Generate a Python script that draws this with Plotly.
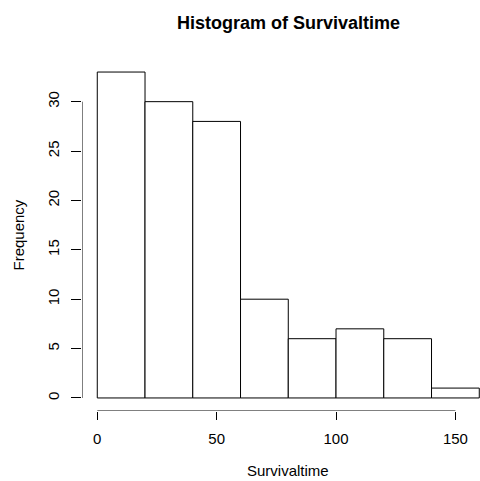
import plotly.graph_objects as go

bin_edges = [0, 20, 40, 60, 80, 100, 120, 140, 160]
counts = [33, 30, 28, 10, 6, 7, 6, 1]
x_ticks = [0, 50, 100, 150]
y_ticks = [0, 5, 10, 15, 20, 25, 30]
title = "Histogram of Survivaltime"
x_label = "Survivaltime"
y_label = "Frequency"

mids = [(a + b) / 2 for a, b in zip(bin_edges[:-1], bin_edges[1:])]
widths = [b - a for a, b in zip(bin_edges[:-1], bin_edges[1:])]

FONT = "Liberation Sans, Arial, sans-serif"
xr = [-6.4, 160.3]
yr = [-1.32, 34.32]

fig = go.Figure()
fig.add_trace(go.Bar(x=mids, y=counts, width=widths,
                     marker=dict(color="white", line=dict(color="black", width=1)),
                     showlegend=False, hoverinfo="skip"))

fig.update_layout(
    width=480, height=481,
    margin=dict(l=81.5, r=0, t=59, b=70.3),
    paper_bgcolor="white", plot_bgcolor="white",
    font=dict(family=FONT, size=15, color="black"),
    xaxis=dict(range=xr, tickvals=x_ticks, ticks="outside", ticklen=8, tickwidth=1,
               tickcolor="black", showgrid=False, zeroline=False, showline=False,
               ticklabelstandoff=6, tickfont=dict(size=15)),
    yaxis=dict(range=yr, tickvals=y_ticks, ticks="outside", ticklen=10, tickwidth=1,
               tickcolor="black", showgrid=False, zeroline=False, showline=False,
               tickangle=-90, ticklabelstandoff=6, tickfont=dict(size=15)),
    shapes=[
        dict(type="line", xref="x", yref="y", x0=x_ticks[0], x1=x_ticks[-1], y0=yr[0], y1=yr[0],
             line=dict(color="black", width=1)),
        dict(type="line", xref="x", yref="y", x0=xr[0], x1=xr[0], y0=y_ticks[0], y1=y_ticks[-1],
             line=dict(color="black", width=1)),
    ],
    annotations=[
        dict(text="<b>" + title + "</b>", xref="x", yref="paper", x=80, y=1.103,
             xanchor="center", yanchor="middle", showarrow=False, font=dict(size=18)),
        dict(text=x_label, xref="x", yref="paper", x=80, y=-0.1686,
             xanchor="center", yanchor="middle", showarrow=False, font=dict(size=15)),
        dict(text=y_label, xref="paper", yref="paper", x=-0.162, y=0.5, textangle=-90,
             xanchor="center", yanchor="middle", showarrow=False, font=dict(size=15)),
    ],
)
fig.write_html("out.html")
